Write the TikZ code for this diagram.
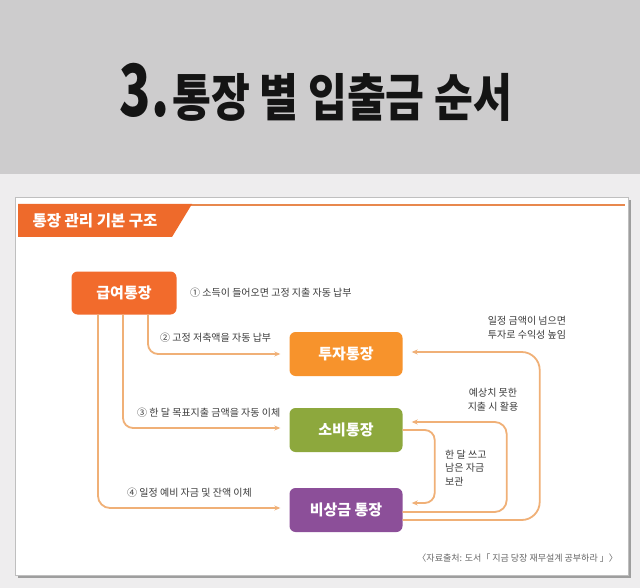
\documentclass[tikz,border=0pt]{standalone}
\usepackage{fontspec}
\setmainfont{Noto Sans CJK KR}
\usetikzlibrary{arrows.meta}

\definecolor{bandgray}{HTML}{CDCCCD}
\definecolor{pagegray}{HTML}{EEEDEE}
\definecolor{tabred}{HTML}{EE6A2B}
\definecolor{tabline}{HTML}{E8884E}
\definecolor{salaryc}{HTML}{F26B2C}
\definecolor{investc}{HTML}{F7932C}
\definecolor{spendc}{HTML}{8DA83D}
\definecolor{emergc}{HTML}{8C4F99}
\definecolor{flowc}{HTML}{F0B077}
\definecolor{textgray}{HTML}{3C3C3C}

\begin{document}
\begin{tikzpicture}[x=1pt, y=-1pt]
        \tikzstyle{account}=[rounded corners=6pt, minimum width=113pt, minimum height=44pt, text=white, font=\bfseries\fontsize{15}{15}\selectfont];
        \tikzstyle{flow}=[draw=flowc, line width=1.8pt, -{Stealth[length=6pt, width=5pt]}, shorten >=9pt];
        \tikzstyle{note}=[text=textgray, font=\fontsize{10}{14}\selectfont, inner sep=0pt];

        \useasboundingbox (0,0) rectangle (640,588);
        \fill[pagegray] (0,0) rectangle (640,588);
        \fill[bandgray] (0,0) rectangle (640,174);

        % title
        \node[anchor=base, font=\bfseries, inner sep=0pt, text=black!92] (title) at (316,117)
            {\scalebox{0.86}[1.2]{\fontsize{60}{60}\selectfont 3.}\hspace{3pt}\scalebox{0.96}[1.16]{\fontsize{44}{44}\selectfont 통장 별 입출금 순서}};

        % card
        \fill[black!38] (18,200) rectangle (631,578);
        \draw[black!25, fill=white] (15,197) rectangle (628,575);
        \draw[tabline, line width=1.5pt] (185,205) -- (625,205);
        \fill[tabred] (18,204) -- (192,204) -- (172,237) -- (18,237) -- cycle;
        \node[text=white, font=\bfseries\fontsize{15.5}{15.5}\selectfont] (tab) at (95,221) {통장 관리 기본 구조};

        % accounts
        \node[account, fill=salaryc, minimum width=105pt, minimum height=43pt] (salary) at (124,293) {급여통장};
        \node[account, fill=investc] (invest) at (346,354) {투자통장};
        \node[account, fill=spendc, below of=invest, node distance=76pt] (spend) {소비통장};
        \node[account, fill=emergc, below of=spend, node distance=80pt] (emergency) {비상금 통장};

        \draw[flow, rounded corners=10pt] ([xshift=24pt]salary.south) |- (invest.west);
        \draw[flow, rounded corners=10pt] ([xshift=-1pt]salary.south) |- ([yshift=2pt]spend.west);
        \draw[flow, rounded corners=12pt] ([xshift=-26pt]salary.south) |- ([yshift=2pt]emergency.west);

        \draw[flow, rounded corners=18pt] ([yshift=-10pt]emergency.east) -- ++(137,0) |- ([yshift=2pt]invest.east);
        \draw[flow, rounded corners=12pt] ([yshift=-2pt]emergency.east) -- ++(104,0) |- ([yshift=8pt]spend.east);
        \draw[flow, rounded corners=10pt] (spend.east) -- ++(32,0) |- ([yshift=7pt]emergency.east);

        % labels
        \node[note, anchor=west] (step1) at (190,293) {① 소득이 들어오면 고정 지출 자동 납부};
        \node[note, anchor=west] (step2) at (160,338) {② 고정 저축액을 자동 납부};
        \node[note, anchor=west] (step3) at (137,413) {③ 한 달 목표지출 금액을 자동 이체};
        \node[note, anchor=west] (step4) at (127,493) {④ 일정 예비 자금 및 잔액 이체};
        \node[note, align=center] (toinvest) at (527,328) {일정 금액이 넘으면\\투자로 수익성 높임};
        \node[note, align=center] (tospend) at (493,400) {예상치 못한\\지출 시 활용};
        \node[note, align=left, anchor=west, font=\fontsize{10}{13.5}\selectfont] (tokeep) at (445,468) {한 달 쓰고\\남은 자금\\보관};

        \node[text=black!60, font=\fontsize{9}{10}\selectfont, anchor=east, inner sep=0pt] (source) at (618,558) {〈자료출처: 도서「 지금 당장 재무설계 공부하라 」〉};
    \end{tikzpicture}
\end{document}
